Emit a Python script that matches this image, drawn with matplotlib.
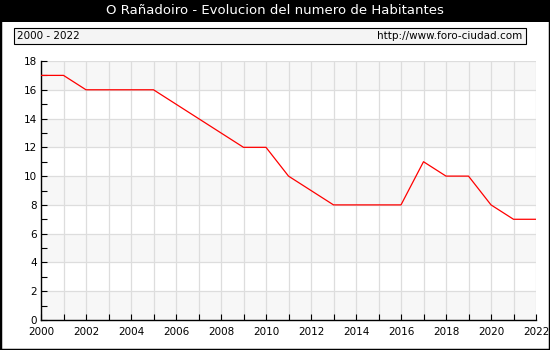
import matplotlib.pyplot as plt
from matplotlib.patches import Rectangle

# ---------------------------------------------------------------------------
# Data
# ---------------------------------------------------------------------------
years = [2000, 2001, 2002, 2003, 2004, 2005, 2006, 2007, 2008, 2009, 2010, 2011,
         2012, 2013, 2014, 2015, 2016, 2017, 2018, 2019, 2020, 2021, 2022]
habitantes = [17, 17, 16, 16, 16, 16, 15, 14, 13, 12, 12, 10,
              9, 8, 8, 8, 8, 11, 10, 10, 8, 7, 7]
xticks = list(range(2000, 2023, 2))
yticks = list(range(0, 19, 2))

title = "O Rañadoiro - Evolucion del numero de Habitantes"
period = "2000 - 2022"
url = "http://www.foro-ciudad.com"

W, H = 550, 350
fig = plt.figure(figsize=(W / 100, H / 100), dpi=100)
fig.patch.set_facecolor("white")

# outer black frame and title bar
fig.add_artist(Rectangle((0, 0), 1, 1, transform=fig.transFigure,
                         facecolor="none", edgecolor="black", linewidth=2.5))
fig.add_artist(Rectangle((0, 1 - 22 / H), 1, 22 / H, transform=fig.transFigure,
                         facecolor="black", edgecolor="none"))
fig.text(0.5, 1 - 11 / H, title, color="white", ha="center", va="center",
         fontsize=9.5)

# subtitle box
fig.add_artist(Rectangle((14 / W, 1 - 44 / H), 512 / W, 16 / H,
                         transform=fig.transFigure, facecolor="#f4f4f4",
                         edgecolor="black", linewidth=0.8))
fig.text(17 / W, 1 - 36 / H, period, ha="left", va="center", fontsize=7.5)
fig.text(522 / W, 1 - 36 / H, url, ha="right", va="center", fontsize=7.5)

# ---------------------------------------------------------------------------
# Plot area
# ---------------------------------------------------------------------------
ax = fig.add_axes([41 / W, 1 - 320 / H, 495 / W, 259 / H])
ax.set_xlim(2000, 2022)
ax.set_ylim(0, 18)

# alternating bands
for y0 in range(0, 18, 4):
    ax.axhspan(y0, y0 + 2, color="#f7f7f7", zorder=0, linewidth=0)
ax.axhspan(16, 18, color="#f7f7f7", zorder=0, linewidth=0)

for yr in years:
    ax.axvline(yr, color="#dddddd", linewidth=0.9, zorder=1)
for yv in yticks:
    ax.axhline(yv, color="#dddddd", linewidth=0.9, zorder=1)

ax.plot(years, habitantes, color="red", linewidth=0.9, zorder=3)

ax.set_xticks(xticks)
ax.set_xticks(years, minor=True)
ax.set_yticks(yticks)
ax.set_yticks(range(1, 18, 2), minor=True)
ax.tick_params(axis="both", which="both", direction="in", length=4,
               width=0.8, labelsize=7.5, pad=3)
ax.tick_params(axis="x", pad=5)

for side in ["top", "right"]:
    ax.spines[side].set_visible(False)
for side in ["left", "bottom"]:
    ax.spines[side].set_linewidth(1.0)

fig.savefig("out.png", dpi=100)
